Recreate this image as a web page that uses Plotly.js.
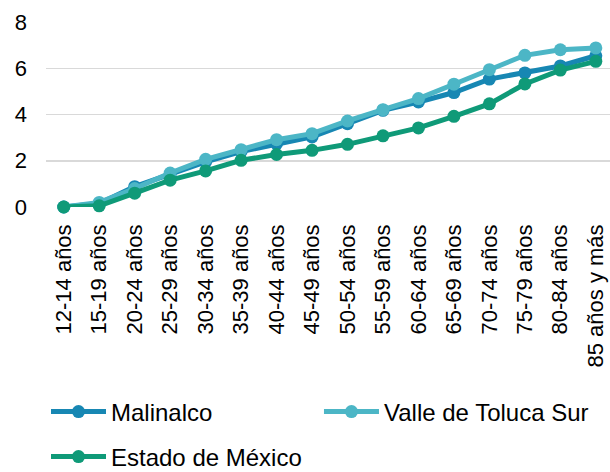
<!DOCTYPE html>
<html>
<head>
<meta charset="utf-8">
<script src="https://cdn.plot.ly/plotly-3.0.1.min.js"></script>
<style>html,body{margin:0;padding:0;background:#fff;}#chart{width:610px;height:472px;}</style>
</head>
<body>
<div id="chart"></div>
<script>
var categories = ["12-14 años","15-19 años","20-24 años","25-29 años","30-34 años","35-39 años","40-44 años","45-49 años","50-54 años","55-59 años","60-64 años","65-69 años","70-74 años","75-79 años","80-84 años","85 años y más"];
var malinalco = [0, 0.15, 0.88, 1.40, 1.95, 2.40, 2.74, 3.03, 3.60, 4.18, 4.54, 4.95, 5.53, 5.80, 6.10, 6.54];
var valleTolucaSur = [0, 0.20, 0.80, 1.47, 2.06, 2.48, 2.91, 3.17, 3.72, 4.21, 4.69, 5.31, 5.94, 6.56, 6.80, 6.88];
var estadoMexico = [0, 0.05, 0.60, 1.16, 1.56, 2.02, 2.27, 2.45, 2.71, 3.08, 3.42, 3.92, 4.46, 5.32, 5.92, 6.30];
var yTicks = [0, 2, 4, 6, 8];

function tr(name, y, color, legend) {
  return {
    type: "scatter", mode: "lines+markers", name: name, x: categories, y: y,
    line: {color: color, width: 5}, marker: {color: color, size: 13},
    cliponaxis: false, legend: legend
  };
}
var data = [
  tr("Malinalco", malinalco, "#1787b3", "legend"),
  tr("Valle de Toluca Sur", valleTolucaSur, "#4cb6c6", "legend2"),
  tr("Estado de México", estadoMexico, "#0f9a78", "legend3")
];
var font = {family: "Liberation Sans, Arial, sans-serif", size: 22, color: "#000"};
var legFont = {family: "Liberation Sans, Arial, sans-serif", size: 24, color: "#000"};
function leg(x, y) {
  return {x: x, y: y, xref: "paper", yref: "paper", xanchor: "left", yanchor: "middle",
    orientation: "h", font: legFont, bgcolor: "rgba(0,0,0,0)", itemwidth: 55};
}
var layout = {
  width: 610, height: 472,
  margin: {l: 46, r: 0, t: 22, b: 265, pad: 0, autoexpand: false},
  paper_bgcolor: "#fff", plot_bgcolor: "#fff",
  font: font,
  showlegend: true,
  xaxis: {
    type: "category", range: [-0.5, 15.4], tickangle: -90, tickfont: font, automargin: false,
    showgrid: false, zeroline: false, showline: false, ticks: "", ticklabelstandoff: 12
  },
  yaxis: {
    range: [0, 8], tickvals: yTicks, tickfont: font, showgrid: true, automargin: false,
    gridcolor: "#d9d9d9", gridwidth: 1.5, zeroline: false, showline: false,
    ticks: "", ticklabelstandoff: 18
  },
  legend: leg(0.0, -1.108),
  legend2: leg(0.484, -1.108),
  legend3: leg(0.0, -1.351)
};
Plotly.newPlot("chart", data, layout, {displayModeBar: false, staticPlot: true});
</script>
</body>
</html>
